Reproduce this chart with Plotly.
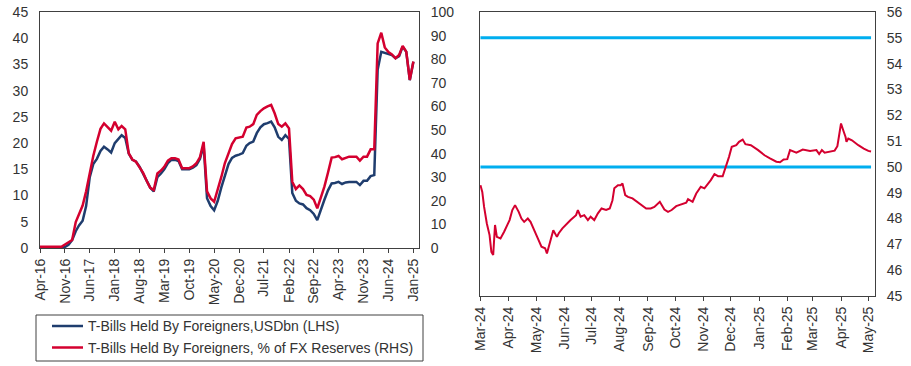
import plotly.graph_objects as go
import pandas as pd

# ---------------- Left chart data (monthly, Apr-16 .. Jan-25) ----------------
left_months = pd.date_range("2016-04-01", "2025-01-01", freq="MS")

tbills_usdbn = [
    0, 0, 0, 0, 0, 0, 0, 0.2, 0.6,                       # Apr-16 .. Dec-16
    1.5, 3.2, 4.3, 5.2, 8.0, 13.5, 16.0, 17.0, 18.5, 19.3, 18.8, 18.2,   # 2017
    20.0, 20.8, 21.5, 21.0, 18.0, 16.8, 16.5, 15.5, 14.2, 13.0, 11.5, 10.8,  # 2018
    13.5, 14.2, 15.0, 16.2, 16.8, 16.8, 16.6, 15.0, 15.0, 15.0, 15.3, 15.8,  # 2019
    17.0, 19.6, 9.5, 8.0, 7.2, 9.0, 11.5, 14.0, 16.0, 17.2, 17.6, 17.8,      # 2020
    18.1, 19.5, 20.0, 20.3, 21.9, 23.0, 23.6, 23.8, 24.1, 23.0, 21.2, 20.6,  # 2021
    21.5, 20.8, 10.5, 9.0, 8.5, 8.3, 7.6, 7.2, 6.5, 5.3, 7.5, 9.2,           # 2022
    11.0, 12.3, 12.4, 12.6, 12.2, 12.5, 12.6, 12.6, 12.6, 12.0, 12.8, 12.8,  # 2023
    13.7, 13.9, 34.0, 37.4, 37.2, 37.0, 36.8, 36.2, 36.6, 38.4, 37.4, 32.0,  # 2024
    35.5,                                                                      # Jan-25
]

tbills_pct_fx = [
    0.5, 0.5, 0.5, 0.5, 0.5, 0.5, 0.5, 1.5, 2.5,
    3.4, 11.0, 14.5, 18.0, 24.0, 32.0, 39.0, 45.0, 50.5, 52.8, 51.4, 49.7,
    53.5, 50.3, 51.7, 50.3, 40.1, 37.5, 36.6, 34.0, 31.8, 28.5, 25.5, 24.6,
    31.6, 32.8, 34.4, 37.0, 38.0, 38.0, 37.5, 33.8, 33.8, 33.8, 34.6, 35.9,
    38.5, 45.0, 24.0, 21.0, 19.6, 24.5, 30.0, 36.0, 40.5, 44.0, 46.5, 46.8,
    47.2, 51.0, 51.4, 52.5, 56.4, 58.0, 59.2, 60.0, 60.6, 57.1, 52.5, 51.4,
    52.8, 50.7, 28.1, 25.0, 26.5, 25.0, 22.5, 22.0, 20.5, 16.8, 21.5, 26.0,
    32.0, 38.3, 38.5, 39.0, 37.6, 38.3, 38.7, 38.7, 38.7, 37.0, 38.7, 38.7,
    41.8, 41.8, 86.7, 91.2, 85.0, 83.0, 82.0, 80.4, 81.8, 85.6, 83.2, 71.2,
    79.0,
]

left_series_names = ["T-Bills Held By Foreigners,USDbn (LHS)",
                     "T-Bills Held By Foreigners, % of FX Reserves (RHS)"]

left_tick_dates = pd.date_range("2016-04-01", "2025-01-01", freq="7MS")
left_tick_labels = ["Apr-16", "Nov-16", "Jun-17", "Jan-18", "Aug-18", "Mar-19",
                    "Oct-19", "May-20", "Dec-20", "Jul-21", "Feb-22", "Sep-22",
                    "Apr-23", "Nov-23", "Jun-24", "Jan-25"]

# ---------------- Right chart data ----------------
right_dates = [
    "2024-03-01", "2024-03-03", "2024-03-05", "2024-03-08", "2024-03-11", "2024-03-13", "2024-03-15", "2024-03-17", "2024-03-19", "2024-03-23", "2024-03-27",
    "2024-04-02", "2024-04-05", "2024-04-08", "2024-04-12", "2024-04-15", "2024-04-18", "2024-04-22", "2024-04-25", "2024-04-30",
    "2024-05-03", "2024-05-07", "2024-05-11", "2024-05-13", "2024-05-15", "2024-05-18", "2024-05-20", "2024-05-24", "2024-05-26", "2024-05-30",
    "2024-06-04", "2024-06-08", "2024-06-14", "2024-06-16", "2024-06-19", "2024-06-23", "2024-06-27", "2024-06-30",
    "2024-07-04", "2024-07-08", "2024-07-12", "2024-07-17", "2024-07-21", "2024-07-24", "2024-07-26", "2024-07-30",
    "2024-08-02", "2024-08-04", "2024-08-07", "2024-08-10", "2024-08-15", "2024-08-20", "2024-08-24", "2024-08-30",
    "2024-09-04", "2024-09-08", "2024-09-14", "2024-09-17", "2024-09-19", "2024-09-23", "2024-09-27",
    "2024-10-02", "2024-10-07", "2024-10-13", "2024-10-15", "2024-10-20", "2024-10-24", "2024-10-29",
    "2024-11-02", "2024-11-06", "2024-11-09", "2024-11-13", "2024-11-17", "2024-11-22", "2024-11-25", "2024-11-29",
    "2024-12-02", "2024-12-07", "2024-12-10", "2024-12-14", "2024-12-17", "2024-12-23", "2024-12-31",
    "2025-01-07", "2025-01-13", "2025-01-20", "2025-01-24", "2025-01-28",
    "2025-02-01", "2025-02-04", "2025-02-11", "2025-02-18", "2025-02-26",
    "2025-03-05", "2025-03-08", "2025-03-11", "2025-03-14", "2025-03-20", "2025-03-25", "2025-03-28",
    "2025-04-01", "2025-04-04", "2025-04-06", "2025-04-07", "2025-04-09", "2025-04-13", "2025-04-17", "2025-04-20", "2025-04-26",
    "2025-05-01", "2025-05-04",
]
right_values = [
    49.29, 49.03, 48.45, 47.81, 47.36, 46.71, 46.59, 47.75, 47.29, 47.23, 47.49,
    47.94, 48.33, 48.52, 48.26, 48.00, 47.87, 48.00, 47.87, 47.43,
    47.23, 46.91, 46.85, 46.65, 46.91, 47.23, 47.55, 47.29, 47.43, 47.62,
    47.81, 47.94, 48.13, 48.33, 48.07, 48.13, 47.94, 48.07,
    47.94, 48.20, 48.39, 48.33, 48.39, 48.71, 49.17, 49.29,
    49.29, 49.36, 48.91, 48.84, 48.78, 48.65, 48.52, 48.39,
    48.39, 48.45, 48.65, 48.43, 48.35, 48.26, 48.33,
    48.48, 48.55, 48.61, 48.75, 48.65, 48.97, 49.23,
    49.17, 49.33, 49.49, 49.72, 49.64, 49.64, 49.94, 50.39,
    50.78, 50.84, 50.97, 51.06, 50.88, 50.84, 50.65,
    50.45, 50.33, 50.20, 50.18, 50.29,
    50.30, 50.65, 50.55, 50.67, 50.62,
    50.65, 50.50, 50.65, 50.55, 50.60, 50.63, 50.80,
    51.68, 51.36, 51.16, 50.97, 51.10, 51.03, 50.91, 50.84, 50.71,
    50.62, 50.60,
]
right_levels = [55, 50]

right_tick_dates = pd.date_range("2024-03-01", "2025-05-01", freq="MS")
right_tick_labels = ["Mar-24", "Apr-24", "May-24", "Jun-24", "Jul-24", "Aug-24",
                     "Sep-24", "Oct-24", "Nov-24", "Dec-24", "Jan-25", "Feb-25",
                     "Mar-25", "Apr-25", "May-25"]

# ---------------- Styling ----------------
W, H = 911, 366
NAVY = "#1F3D6E"
RED = "#D4002F"
CYAN = "#00AEEF"
AX = "#404040"
TXT = "#333333"
FONT = "Liberation Sans, Arial, sans-serif"


def px_x(a, b):
    return [a / W, b / W]


def px_y(top, bottom):
    return [(H - bottom) / H, (H - top) / H]


def fx(p):
    return p / W


def fy(p):
    return (H - p) / H


fig = go.Figure()

fig.add_trace(go.Scatter(
    x=left_months, y=tbills_usdbn, mode="lines", xaxis="x", yaxis="y",
    line=dict(color=NAVY, width=2.5), name=left_series_names[0]))
fig.add_trace(go.Scatter(
    x=left_months, y=tbills_pct_fx, mode="lines", xaxis="x", yaxis="y2",
    line=dict(color=RED, width=2.5), name=left_series_names[1]))

for lvl in right_levels:
    fig.add_trace(go.Scatter(
        x=[right_dates[0], right_dates[-1]], y=[lvl, lvl], mode="lines",
        xaxis="x2", yaxis="y3", line=dict(color=CYAN, width=3),
        hoverinfo="skip"))

fig.add_trace(go.Scatter(
    x=right_dates, y=right_values, mode="lines", xaxis="x2", yaxis="y3",
    line=dict(color=RED, width=2)))

tickfont = dict(family=FONT, size=14, color=TXT)

common_x = dict(showline=True, mirror=True, linecolor=AX, linewidth=1,
                showgrid=False, zeroline=False, ticks="outside", ticklen=4,
                tickcolor=AX, tickangle=-90, tickfont=tickfont,
                automargin=False)
common_y = dict(showline=True, linecolor=AX, linewidth=1, showgrid=False,
                zeroline=False, ticks="", tickfont=tickfont, automargin=False)

# Legend box drawn in pixel positions (below the left chart)
legend_shapes = [
    dict(type="rect", xref="paper", yref="paper",
         x0=fx(36), x1=fx(423), y0=fy(361), y1=fy(315),
         line=dict(color=AX, width=1), fillcolor="white"),
    dict(type="line", xref="paper", yref="paper",
         x0=fx(52), x1=fx(83), y0=fy(326), y1=fy(326),
         line=dict(color=NAVY, width=2.5)),
    dict(type="line", xref="paper", yref="paper",
         x0=fx(52), x1=fx(83), y0=fy(347.5), y1=fy(347.5),
         line=dict(color=RED, width=2.5)),
]
legend_texts = [
    dict(xref="paper", yref="paper", x=fx(86), y=fy(326), xanchor="left",
         yanchor="middle", showarrow=False, text=left_series_names[0],
         font=dict(family=FONT, size=14, color=TXT)),
    dict(xref="paper", yref="paper", x=fx(86), y=fy(347.5), xanchor="left",
         yanchor="middle", showarrow=False, text=left_series_names[1],
         font=dict(family=FONT, size=14, color=TXT)),
]

fig.update_layout(
    width=W, height=H,
    margin=dict(l=0, r=0, t=0, b=0, autoexpand=False),
    paper_bgcolor="white", plot_bgcolor="white",
    font=dict(family=FONT, size=14, color=TXT),
    showlegend=False,
    shapes=legend_shapes,
    annotations=legend_texts,
    xaxis=dict(domain=px_x(40, 419), anchor="y",
               range=["2016-04-01", "2025-02-18"],
               tickvals=left_tick_dates, ticktext=left_tick_labels,
               **common_x),
    yaxis=dict(domain=px_y(12, 248), anchor="x", range=[0, 45], dtick=5,
               mirror=True, ticklabelstandoff=8, **common_y),
    yaxis2=dict(overlaying="y", side="right", anchor="x", range=[0, 100],
                dtick=10, ticklabelstandoff=8, **common_y),
    xaxis2=dict(domain=px_x(480, 875), anchor="y3",
                range=["2024-02-29 12:00", "2025-05-08 08:00"],
                tickvals=right_tick_dates, ticktext=right_tick_labels,
                **common_x),
    yaxis3=dict(domain=px_y(12, 296), anchor="x2", side="right",
                range=[45, 56], dtick=1, mirror=True, ticklabelstandoff=8,
                **common_y),
)

fig.write_html("out.html",
               config={"displayModeBar": False},
               post_script="document.body.style.margin='0';"
                           "document.body.style.overflow='hidden';")
